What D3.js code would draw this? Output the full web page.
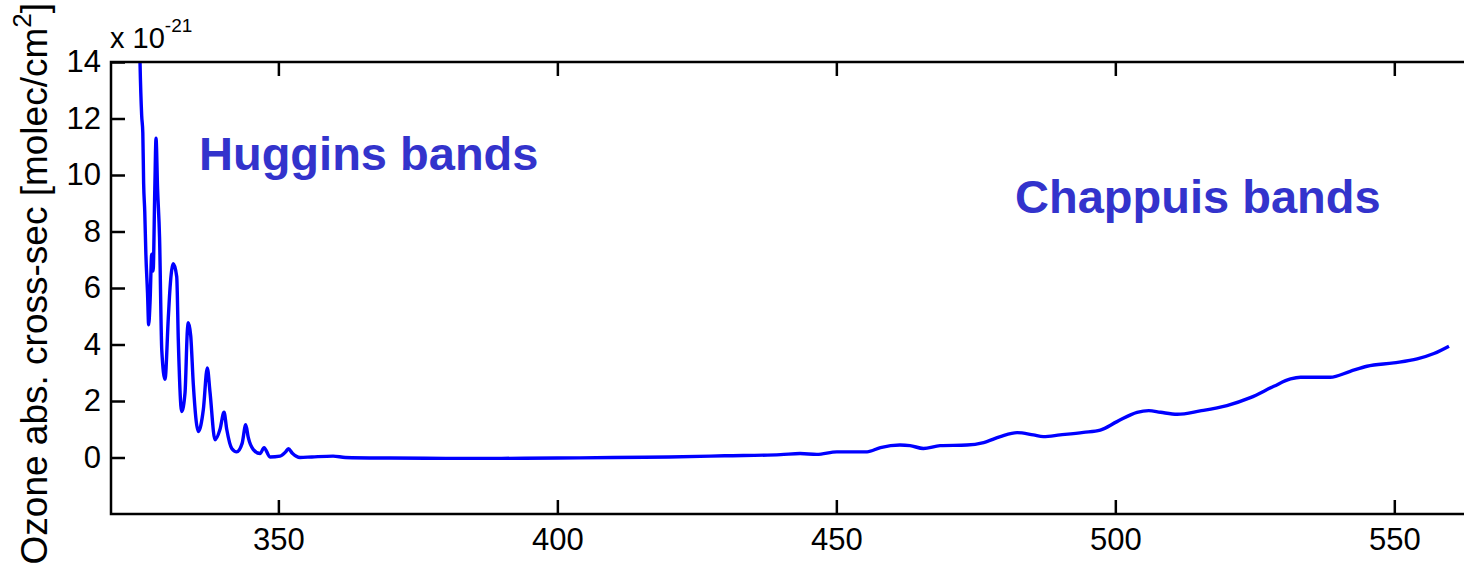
<!DOCTYPE html>
<html>
<head>
<meta charset="utf-8">
<script src="https://cdn.jsdelivr.net/npm/d3@7"></script>
<style>
  html, body { margin: 0; padding: 0; background: #fff; }
  svg { display: block; font-family: 'Liberation Sans', Arial, sans-serif; }
</style>
</head>
<body>
<div id="chart"></div>
<script>
// wavelength in nm, ozone cross-section in 1e-21 molec/cm2
const wavelength = [
  325.1, 325.2, 325.5, 325.7, 325.85, 326.05, 326.25, 326.55, 326.75, 327.0,
  327.3, 327.55, 327.85, 328.07, 328.35, 328.7, 329.1, 329.68, 330.27, 330.58,
  331.17, 331.78, 332.07, 332.67, 333.27, 333.68, 333.86, 334.29, 334.75, 335.65,
  336.55, 337.26, 337.75, 338.64, 339.54, 340.26, 340.74, 341.64, 342.53, 343.5,
  344.15, 344.61, 345.51, 346.71, 347.43, 348.5, 350.3, 351.3, 351.79, 352.5,
  353.88, 356, 359.8, 362, 370, 380, 390, 400, 410, 420,
  430, 440, 443.5, 446.5, 450.1, 455.5, 457.9, 461.4, 463.2, 465.6,
  468.6, 473.4, 476.4, 479.4, 482.4, 485.3, 487.1, 490.1, 494.3, 497.3,
  500.3, 503.9, 506.0, 508.1, 511.1, 515.2, 520.0, 524.2, 528.4, 531.4,
  533.2, 538.5, 542.1, 545.1, 549.9, 554.1, 557.1, 559.8
]
const crossSection = [
  15, 14.0, 12.1, 11.5, 9.7, 8.7, 7.2, 5.8, 4.7, 5.5,
  7.2, 6.6, 9.5, 11.3, 9.5, 7.8, 3.8, 2.77, 4.94, 6.0,
  6.86, 6.4, 4.1, 1.63, 2.3, 4.47, 4.77, 4.3, 2.6, 0.92,
  1.7, 3.17, 2.3, 0.63, 1.0, 1.6, 1.0, 0.32, 0.2, 0.5,
  1.16, 0.7, 0.28, 0.14, 0.35, 0.02, 0.05, 0.2, 0.31, 0.15,
  0.0, 0.02, 0.05, 0.0, -0.02, -0.03, -0.03, -0.02, 0.0, 0.02,
  0.06, 0.1, 0.14, 0.11, 0.2, 0.2, 0.35, 0.44, 0.42, 0.32,
  0.42, 0.44, 0.53, 0.74, 0.88, 0.8, 0.74, 0.8, 0.89, 0.97,
  1.27, 1.6, 1.66, 1.6, 1.53, 1.65, 1.84, 2.12, 2.52, 2.78,
  2.84, 2.84, 3.05, 3.23, 3.35, 3.49, 3.68, 3.94
]

const xTicks = [350, 400, 450, 500, 550]
const yTicks = [0, 2, 4, 6, 8, 10, 12, 14]

const margin = { top: 62, left: 111, right: -14, bottom: 62 }
const totalWidth = 1464
const totalHeight = 576
const width = totalWidth - margin.left - margin.right
const height = totalHeight - margin.top - margin.bottom

const svg = d3
  .select('#chart')
  .append('svg')
  .attr('width', totalWidth)
  .attr('height', totalHeight)

const g = svg
  .append('g')
  .attr('transform', 'translate(' + margin.left + ',' + margin.top + ')')

const xScale = d3.scaleLinear().domain([320, 565]).range([0, width])
const yScale = d3.scaleLinear().domain([-2, 14]).range([height, 0])

g.append('clipPath')
  .attr('id', 'plot-clip')
  .append('rect')
  .attr('width', width)
  .attr('height', height)

const points = wavelength.map((w, i) => ({ w: w, v: crossSection[i] }))

const line = d3
  .line()
  .curve(d3.curveMonotoneX)
  .x(d => xScale(d.w))
  .y(d => yScale(d.v))

g.append('path')
  .datum(points)
  .attr('clip-path', 'url(#plot-clip)')
  .attr('fill', 'none')
  .attr('stroke', '#0000ff')
  .attr('stroke-width', 3.4)
  .attr('stroke-linejoin', 'round')
  .attr('d', line)

// axes, ticks pointing inward on all four sides
const tickLen = 14

g.append('g')
  .call(d3.axisLeft(yScale).tickValues(yTicks).tickSize(-tickLen).tickPadding(10))

g.append('g')
  .attr('transform', 'translate(0,' + height + ')')
  .call(d3.axisBottom(xScale).tickValues(xTicks).tickSize(-tickLen).tickPadding(14))

g.append('g')
  .call(d3.axisTop(xScale).tickValues(xTicks).tickSize(-tickLen).tickFormat(''))

g.append('g')
  .attr('transform', 'translate(' + width + ',0)')
  .call(d3.axisRight(yScale).tickValues(yTicks).tickSize(-tickLen).tickFormat(''))

g.selectAll('.domain').remove()
g.selectAll('.tick line').attr('stroke', '#000').attr('stroke-width', 2.5)
g.selectAll('.tick text')
  .attr('fill', '#000')
  .attr('font-size', 31)
  .attr('font-family', "'Liberation Sans', Arial, sans-serif")

g.append('rect')
  .attr('width', width)
  .attr('height', height)
  .attr('fill', 'none')
  .attr('stroke', '#000')
  .attr('stroke-width', 2.5)

// exponent label
const expo = svg
  .append('text')
  .attr('x', 110)
  .attr('y', 48)
  .attr('font-size', 29)
  .attr('fill', '#000')
expo.append('tspan').text('x 10')
expo.append('tspan').attr('font-size', 19).attr('dy', -16).text('-21')

// y label
const ylab = svg
  .append('text')
  .attr('transform', 'translate(47,3) rotate(-90)')
  .attr('text-anchor', 'end')
  .attr('font-size', 37)
  .attr('fill', '#000')
ylab.append('tspan').text('Ozone abs. cross-sec [molec/cm')
ylab.append('tspan').attr('font-size', 26).attr('dy', -16).text('2')
ylab.append('tspan').attr('dy', 16).text(']')

// band annotations
svg
  .append('text')
  .attr('x', 199)
  .attr('y', 170)
  .attr('font-size', 47)
  .attr('font-weight', 700)
  .attr('fill', '#3333cc')
  .text('Huggins bands')

svg
  .append('text')
  .attr('x', 1015)
  .attr('y', 213)
  .attr('font-size', 47)
  .attr('font-weight', 700)
  .attr('fill', '#3333cc')
  .text('Chappuis bands')
</script>
</body>
</html>
